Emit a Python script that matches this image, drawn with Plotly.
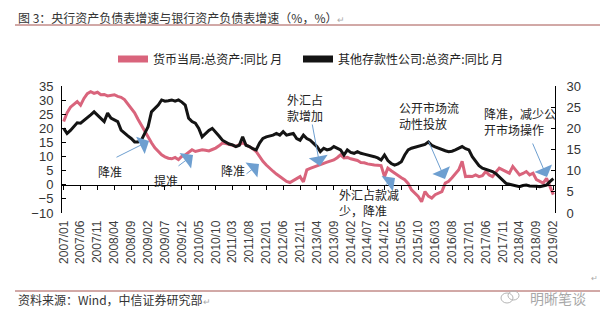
import plotly.graph_objects as go
import pandas as pd

# ---------------- data ----------------
months = pd.date_range("2007-01-01", periods=146, freq="MS").strftime("%Y/%m").tolist()

tick_labels = ["2007/01", "2007/06", "2007/11", "2008/04", "2008/09", "2009/02",
               "2009/07", "2009/12", "2010/05", "2010/10", "2011/03", "2011/08",
               "2012/01", "2012/06", "2012/11", "2013/04", "2013/09", "2014/02",
               "2014/07", "2014/12", "2015/05", "2015/10", "2016/03", "2016/08",
               "2017/01", "2017/06", "2017/11", "2018/04", "2018/09", "2019/02"]

# 货币当局:总资产:同比 (left axis)
pboc = [22.4, 25.5, 27.5, 28.6, 29.5, 28.2, 30.6, 32.3, 33.0, 32.4,
        32.8, 31.9, 32.0, 31.5, 31.8, 31.9, 31.3, 31.0, 30.2, 28.6,
        27.3, 25.5, 23.2, 21.0, 18.8, 16.6, 14.9, 13.1, 11.8, 10.6,
        9.9, 9.4, 9.2, 9.7, 8.9, 10.1, 10.6, 11.5, 12.4, 11.8,
        12.2, 12.4, 12.2, 12.0, 12.5, 13.0, 13.8, 14.8, 14.6, 14.4,
        14.0, 13.6, 14.2, 14.8, 14.2, 13.6, 12.8, 11.8, 10.0, 8.3,
        7.0, 5.8, 4.8, 3.8, 2.9, 2.0, 1.2, 0.8, 1.5, 2.0,
        2.9, 1.0, 5.3, 5.8, 6.3, 6.7, 7.2, 7.6, 8.0, 8.3,
        8.8, 9.6, 10.6, 9.5, 9.7, 9.2, 8.9, 8.6, 7.9, 7.8,
        7.4, 7.1, 7.0, 6.9, 6.8, 2.9, 5.9, 5.0, 4.1, 3.3,
        2.5, 1.8, 0.5, -1.8, -2.9, -4.1, -6.0, -2.4, -4.0, -4.7,
        -3.5, -3.0, -2.4, 0.6, 1.2, 2.5, 4.1, 5.3, 8.3, 2.9,
        3.0, 2.9, 3.5, 2.9, 3.2, 4.7, 3.5, 2.9, 4.5, 5.9,
        5.3, 4.6, 4.1, 6.5, 5.0, 3.5, 4.0, 4.7, 3.5, 4.1,
        1.8, 1.2, 0.6, 2.3, -0.6, -3.5]

# 其他存款性公司:总资产:同比 (right axis)
odc = [20.0, 18.8, 19.5, 20.5, 21.3, 21.2, 21.8, 22.4, 23.2, 23.9,
       23.1, 22.3, 21.6, 23.6, 22.4, 22.0, 21.6, 19.6, 18.8, 18.2,
       17.6, 16.8, 16.8, 17.2, 18.8, 20.4, 23.9, 24.7, 25.5, 26.7,
       26.4, 26.5, 26.7, 26.4, 26.7, 26.2, 25.5, 22.4, 21.6, 21.2,
       20.0, 18.0, 18.8, 19.5, 20.0, 19.2, 18.2, 17.2, 16.8, 16.3,
       16.1, 15.7, 16.0, 18.0, 16.0, 15.7, 15.2, 14.9, 16.5, 17.6,
       18.0, 18.2, 18.4, 18.8, 18.4, 19.2, 18.4, 18.6, 18.8, 17.6,
       17.2, 18.4, 17.6, 17.2, 16.5, 15.7, 14.5, 15.3, 14.9, 15.1,
       15.7, 15.3, 14.9, 13.7, 14.9, 14.3, 14.1, 14.5, 14.1, 13.9,
       13.7, 13.6, 13.3, 13.0, 12.5, 13.7, 12.4, 11.7, 11.3, 11.6,
       12.1, 13.7, 14.9, 15.3, 15.5, 15.7, 15.9, 16.2, 16.8, 16.0,
       15.6, 15.3, 14.9, 14.7, 14.5, 14.6, 14.9, 15.3, 15.7, 15.2,
       14.9, 13.3, 12.2, 11.2, 10.6, 10.3, 10.0, 9.8, 9.3, 8.6,
       7.8, 7.0, 6.8, 6.6, 6.4, 6.2, 6.5, 6.6, 6.4, 6.4,
       6.3, 6.2, 6.4, 6.6, 7.4, 8.1]

series_names = ["货币当局:总资产:同比 月", "其他存款性公司:总资产:同比 月"]
PINK = "#d9647c"
BLACK = "#141414"

# ---------------- geometry ----------------
W, H = 600, 322
L, R, T, B = 62, 555, 86, 213


def px(xp):
    return (xp - L) / (R - L)


def py(yp):
    return (B - yp) / (B - T)


CJK = "Noto Sans CJK SC"
NUM = "Liberation Sans"

fig = go.Figure()
fig.add_trace(go.Scatter(x=months, y=pboc, mode="lines", line=dict(color=PINK, width=3),
                         showlegend=False, yaxis="y"))
fig.add_trace(go.Scatter(x=months, y=odc, mode="lines", line=dict(color=BLACK, width=3),
                         showlegend=False, yaxis="y2"))
# legend entries
fig.add_trace(go.Scatter(x=[None], y=[None], mode="lines", line=dict(color=PINK, width=7),
                         name=series_names[0], legend="legend"))
fig.add_trace(go.Scatter(x=[None], y=[None], mode="lines", line=dict(color=BLACK, width=7),
                         name=series_names[1], legend="legend2", yaxis="y2"))

ann = []
txt_font = dict(family=CJK, size=12, color="#222222")


def label(text, x, y, xanchor="center", align="center"):
    ann.append(dict(text=text, x=px(x), y=py(y), xref="paper", yref="paper",
                    xanchor=xanchor, yanchor="middle", align=align, showarrow=False,
                    font=txt_font))


def arrow(tail, head):
    ann.append(dict(text="", x=px(head[0]), y=py(head[1]), xref="paper", yref="paper",
                    ax=tail[0] - head[0], ay=tail[1] - head[1], showarrow=True,
                    arrowhead=1, arrowsize=3.2, arrowwidth=1, arrowcolor="#6e9fd0",
                    standoff=0))


label("降准", 110, 171.5)
arrow((115, 158), (149, 141))
label("提准", 166, 180)
arrow((177, 167), (193, 155))
label("降准", 232.5, 170.5)
arrow((245, 175), (259, 164))
label("外汇占<br>款增加", 304.5, 107.5)
arrow((312, 123), (320, 166))
label("外汇占款减<br>少，降准", 337, 202, xanchor="left", align="left")
arrow((384, 186), (395, 178))
label("公开市场流<br>动性投放", 397, 115.5, xanchor="left", align="left")
arrow((428, 140), (445, 179))
label("降准，减少公<br>开市场操作", 482, 121.5, xanchor="left", align="left")
arrow((532, 142), (547, 177))

# title / source / watermark texts
ann.append(dict(text="图 3：央行资产负债表增速与银行资产负债表增速（%，%）<span style='color:#aaaaaa;font-size:9px'>↵</span>",
                x=px(16), y=py(17), xref="paper", yref="paper", xanchor="left", yanchor="middle",
                showarrow=False, font=dict(family=CJK, size=12, color="#333333")))
ann.append(dict(text="资料来源：Wind，中信证券研究部<span style='color:#aaaaaa;font-size:9px'>↵</span>",
                x=px(16), y=py(299), xref="paper", yref="paper", xanchor="left", yanchor="middle",
                showarrow=False, font=dict(family=CJK, size=12, color="#333333")))
ann.append(dict(text="↵", x=px(594), y=py(277), xref="paper", yref="paper", xanchor="center",
                yanchor="middle", showarrow=False, font=dict(family=CJK, size=8, color="#aaaaaa")))
ann.append(dict(text="明晰笔谈", x=px(558), y=py(298), xref="paper", yref="paper", xanchor="center",
                yanchor="middle", showarrow=False, font=dict(family=CJK, size=14, color="#a8a8a8")))

shapes = [
    dict(type="line", xref="paper", yref="paper", x0=px(15), x1=px(600), y0=py(25), y1=py(25),
         line=dict(color="#a4524f", width=1)),
    dict(type="line", xref="paper", yref="paper", x0=px(15), x1=px(600), y0=py(291), y1=py(291),
         line=dict(color="#a4524f", width=1)),
    dict(type="circle", xref="paper", yref="paper", x0=px(501), x1=px(513), y0=py(303), y1=py(293),
         line=dict(color="#b5b5b5", width=1)),
    dict(type="circle", xref="paper", yref="paper", x0=px(508), x1=px(519), y0=py(300), y1=py(291),
         line=dict(color="#b5b5b5", width=1)),
]

leg_font = dict(family=CJK, size=12, color="#222222")

fig.update_layout(
    width=W, height=H,
    margin=dict(l=L, r=W - R, t=T, b=H - B, autoexpand=False),
    paper_bgcolor="white", plot_bgcolor="white",
    font=dict(family=NUM, size=13, color="#333333"),
    xaxis=dict(type="category", range=[-0.5, 145.5], anchor="free", position=10 / 45,
               showline=True, linecolor="black", linewidth=1, showgrid=False, zeroline=False,
               ticks="outside", ticklen=4, tickcolor="black", tickmode="array",
               tickvals=tick_labels, ticktext=tick_labels, tickangle=-90,
               tickfont=dict(family=NUM, size=12, color="#404040"), ticklabelstandoff=26),
    yaxis=dict(range=[-10, 35], dtick=5, tick0=0, showline=True, linecolor="black", linewidth=1,
               showgrid=False, zeroline=False, ticks="inside", ticklen=4, tickcolor="black",
               tickfont=dict(family=NUM, size=13, color="#333333"), ticklabelstandoff=5),
    yaxis2=dict(range=[0, 30], dtick=5, tick0=0, overlaying="y", side="right", anchor="x",
                showline=True, linecolor="black", linewidth=1, showgrid=False, zeroline=False,
                ticks="inside", ticklen=4, tickcolor="black",
                tickfont=dict(family=NUM, size=13, color="#333333"), ticklabelstandoff=8),
    legend=dict(x=px(113), y=py(59), xanchor="left", yanchor="middle", orientation="h",
                font=leg_font, bgcolor="rgba(0,0,0,0)", borderwidth=0),
    legend2=dict(x=px(298), y=py(59), xanchor="left", yanchor="middle", orientation="h",
                 font=leg_font, bgcolor="rgba(0,0,0,0)", borderwidth=0),
    annotations=ann,
    shapes=shapes,
)

fig.write_html("out.html")
